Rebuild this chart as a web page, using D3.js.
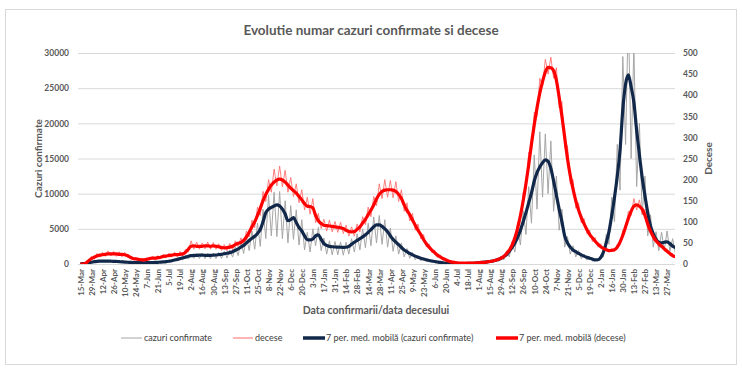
<!DOCTYPE html>
<html><head><meta charset="utf-8">
<script src="https://cdn.jsdelivr.net/npm/d3@7"></script>
<style>body{margin:0;background:#fff} svg{display:block;font-family:Lato,'Open Sans',sans-serif}</style>
</head><body><svg id="c" width="742" height="369"></svg>
<script>
// ---- data (one value every 3.5 days starting 15-Mar-2020) ----
const seriesStart = Date.UTC(2020, 2, 15);
const stepHours = 84;
const casesRaw = [
30,40,160,130,330,250,480,280,500,300,
480,290,460,250,400,200,340,170,290,140,
260,130,240,120,240,130,270,140,310,170,
380,200,500,300,700,420,950,560,1200,700,
1400,800,1500,780,1520,760,1480,740,1550,760,
1650,800,1800,850,2000,980,2450,1200,3100,1500,
3900,1900,4700,2100,5800,2500,7800,3600,9800,4000,
10200,3900,10300,3600,9000,3000,8300,3500,7700,2700,
6300,2000,4500,1700,5000,2600,5200,1900,3700,1400,
3300,1300,3200,1300,3100,1250,3100,1400,3600,1700,
4300,2000,5000,2300,5800,2600,6700,3000,6900,2800,
6300,2400,5100,1800,4000,1400,3000,1000,2200,800,
1650,600,1200,450,880,330,620,230,430,160,
280,100,170,60,110,45,80,35,75,40,
95,50,140,80,230,130,330,180,460,250,
680,380,1050,600,1750,1000,3000,1700,4900,2700,
7600,4200,11000,5800,15500,7800,18800,9500,18500,10000,
17500,7500,12500,4800,7800,2400,3900,1400,2600,1000,
1900,750,1400,550,1050,400,750,400,1300,1000,
4200,2800,9500,6000,17000,10500,29500,17000,36000,15000,
31000,11000,20000,7000,12500,4000,7000,2400,4600,1900,
4500,2000,4700,1800,3600,1500];
const deathsRaw = [
0,1,4,6,18,11,25,16,28,18,
31,19,30,18,29,17,28,15,20,10,
16,8,14,7,15,9,18,10,20,12,
23,14,26,16,28,17,30,19,35,28,
55,35,52,35,50,36,52,35,51,35,
48,32,46,31,49,34,55,41,62,47,
78,64,104,86,135,115,172,148,200,170,
225,185,232,183,222,170,205,160,190,145,
176,128,158,118,155,98,120,84,106,78,
104,76,101,75,99,72,92,66,88,66,
95,76,112,93,135,112,160,138,190,155,
200,158,198,157,195,148,176,125,145,102,
120,80,95,60,70,40,48,27,33,16,
22,9,14,5,8,2,5,1,4,1,
4,1,4,2,5,3,6,3,8,5,
12,7,18,14,31,26,54,53,100,103,
170,175,265,265,360,350,440,420,485,450,
490,440,465,370,385,275,280,190,200,132,
145,97,108,72,80,53,63,40,48,32,
40,27,38,29,47,46,80,80,125,115,
155,128,152,118,130,82,90,55,64,40,
50,30,36,20,25,14];
const casesMA = [
20,60,110,180,250,330,380,400,410,410,
400,395,385,360,330,300,280,250,230,210,
200,190,185,180,185,195,205,220,240,260,
290,330,390,460,560,660,760,880,980,1100,
1180,1220,1240,1250,1250,1240,1230,1230,1250,1280,
1330,1380,1450,1530,1620,1750,1950,2150,2400,2650,
3000,3350,3650,3950,4350,4900,6000,7300,7800,8050,
8250,8400,8250,7800,7100,6150,6300,6600,5900,5200,
4700,4000,3450,3420,3550,4000,4150,3500,2900,2650,
2500,2450,2420,2400,2380,2370,2380,2500,2800,3100,
3350,3600,3850,4150,4500,4900,5300,5550,5550,5350,
5000,4600,4000,3500,3100,2750,2350,2000,1750,1500,
1300,1120,950,820,700,600,500,420,350,290,
230,180,140,110,90,75,65,60,60,65,
75,90,110,140,180,220,260,300,360,430,
530,650,820,1050,1350,1800,2350,3000,3800,4800,
6000,7300,8700,10100,11800,13000,13800,14400,14800,14600,
13600,11800,9800,7800,6000,4000,3000,2400,2000,1750,
1500,1300,1120,960,830,700,580,600,900,1700,
3000,4600,6900,9500,12500,16200,22000,25600,26900,25200,
23000,19000,15500,12300,9700,7300,5400,4300,3500,3100,
3000,3100,3150,2900,2550,2350];
const deathsMA = [
0,0,2,8,13,16,19,21,22,23,
24,24,24,24,23,23,22,20,16,13,
12,11,10,10,11,13,14,14,15,16,
18,19,20,21,22,22,23,24,28,35,
42,43,42,42,42,43,43,42,43,42,
41,39,38,39,40,42,46,49,51,56,
64,75,88,100,115,132,150,165,177,187,
194,199,201,199,194,187,180,174,168,160,
152,143,137,136,133,115,102,96,92,91,
90,89,88,87,86,84,80,77,76,77,
82,88,97,106,117,128,140,154,165,172,
175,176,176,175,172,165,155,140,127,117,
104,92,80,70,58,48,40,33,27,21,
17,13,10,7,5,4,3,2,2,2,
2,2,2,3,3,4,4,5,6,7,
9,11,14,18,25,33,45,62,85,115,
150,190,235,285,330,370,405,432,455,466,
465,458,435,395,350,300,250,210,178,150,
128,110,95,82,70,62,54,47,41,37,
34,32,32,34,40,52,68,88,108,125,
137,140,137,130,115,95,78,65,55,48,
42,36,30,25,20,17];
const leftTicks = [0,5000,10000,15000,20000,25000,30000];
const rightTicks = [0,50,100,150,200,250,300,350,400,450,500];
const xTickFirst = Date.UTC(2020,2,15), xTickLast = Date.UTC(2022,2,28), xTickStepDays = 14;
const titleText = "Evolutie numar cazuri confirmate si decese";
const yLeftTitle = "Cazuri confirmate", yRightTitle = "Decese";
const xTitle = "Data confirmarii/data decesului";
const legendLabels = ["cazuri confirmate","decese","7 per. med. mobilă (cazuri confirmate)","7 per. med. mobilă (decese)"];

// ---- drawing ----
const svg = d3.select('#c');
const P = {l:78, r:675, t:53, b:264};
const x = d3.scaleUtc().domain([new Date(Date.UTC(2020,2,12)), new Date(Date.UTC(2022,3,6))]).range([P.l,P.r]);
const yL = d3.scaleLinear().domain([0,30000]).range([P.b,P.t]);
const yR = d3.scaleLinear().domain([0,500]).range([P.b,P.t]);
const dates = casesMA.map((_,i)=>d3.utcHour.offset(new Date(seriesStart), stepHours*i));
const txt = '#595959';

svg.append('rect').attr('x',5.5).attr('y',9.5).attr('width',731).attr('height',355)
  .attr('fill','#fff').attr('stroke','#d9d9d9');

svg.append('text').attr('x',371).attr('y',35).attr('text-anchor','middle')
  .attr('font-size',13.5).attr('font-weight','bold').attr('fill',txt).text(titleText);

const gL = svg.append('g').attr('transform',`translate(${P.l},0)`)
  .call(d3.axisLeft(yL).tickValues(leftTicks).tickSize(-(P.r-P.l)).tickPadding(9).tickFormat(d3.format('d')));
gL.select('.domain').remove();
gL.selectAll('line').attr('stroke','#d9d9d9');
gL.selectAll('text').attr('fill',txt).attr('font-size',8.5).attr('font-weight','bold').attr('font-family','Lato');

const gR = svg.append('g').attr('transform',`translate(${P.r},0)`)
  .call(d3.axisRight(yR).tickValues(rightTicks).tickSize(0).tickPadding(8));
gR.select('.domain').remove();
gR.selectAll('text').attr('fill',txt).attr('font-size',8.5).attr('font-weight','bold').attr('font-family','Lato');

const xTicks = d3.utcDay.range(new Date(xTickFirst), new Date(xTickLast), xTickStepDays);
const gX = svg.append('g').attr('transform',`translate(0,${P.b})`)
  .call(d3.axisBottom(x).tickValues(xTicks).tickSize(0).tickFormat(d3.utcFormat('%-d-%b')));
gX.select('.domain').remove();
gX.selectAll('text').attr('fill',txt).attr('font-size',8).attr('font-weight','bold').attr('font-family','Lato')
  .attr('transform','rotate(-90)').attr('text-anchor','end').attr('x',-5).attr('y',0).attr('dy','0.35em');

svg.append('text').attr('transform',`translate(41.5,${(P.t+P.b)/2}) rotate(-90)`).attr('text-anchor','middle')
  .attr('font-size',10).attr('font-weight','bold').attr('fill',txt).text(yLeftTitle);
svg.append('text').attr('transform',`translate(711.5,${(P.t+P.b)/2}) rotate(-90)`).attr('text-anchor','middle')
  .attr('font-size',10).attr('font-weight','bold').attr('fill',txt).text(yRightTitle);
svg.append('text').attr('x',376).attr('y',314).attr('text-anchor','middle')
  .attr('font-size',10.5).attr('font-weight','bold').attr('fill',txt).text(xTitle);

svg.append('clipPath').attr('id','pc').append('rect').attr('x',P.l).attr('y',P.t).attr('width',P.r-P.l).attr('height',P.b-P.t);
const plot = svg.append('g').attr('clip-path','url(#pc)');
const lineL = arr => d3.line().x((d,i)=>x(dates[i])).y(d=>yL(d))(arr);
const lineR = arr => d3.line().x((d,i)=>x(dates[i])).y(d=>yR(d))(arr);
const colors = {raw:'#a6a6a6', rawD:'#ff6b6b', ma:'#12284a', maD:'#ff0000'};
plot.append('path').attr('d',lineL(casesRaw)).attr('fill','none').attr('stroke',colors.raw).attr('stroke-width',1);
plot.append('path').attr('d',lineR(deathsRaw)).attr('fill','none').attr('stroke',colors.rawD).attr('stroke-width',1).attr('stroke-opacity',0.85);
plot.append('path').attr('d',d3.line().curve(d3.curveMonotoneX).x((d,i)=>x(dates[i])).y(d=>yL(d))(casesMA)).attr('fill','none').attr('stroke',colors.ma).attr('stroke-width',3.2).attr('stroke-linejoin','round');
plot.append('path').attr('d',d3.line().curve(d3.curveMonotoneX).x((d,i)=>x(dates[i])).y(d=>yR(d))(deathsMA)).attr('fill','none').attr('stroke',colors.maD).attr('stroke-width',3.2).attr('stroke-linejoin','round');

const legY = 338;
const leg = [
  {x1:121,x2:142,tx:144,c:colors.raw,w:1},
  {x1:233,x2:253,tx:255,c:colors.rawD,w:1},
  {x1:303,x2:325,tx:326,c:colors.ma,w:3.5},
  {x1:496,x2:518,tx:519,c:colors.maD,w:3.5}];
leg.forEach((d,i)=>{
  svg.append('line').attr('x1',d.x1).attr('x2',d.x2).attr('y1',legY).attr('y2',legY).attr('stroke',d.c).attr('stroke-width',d.w);
  svg.append('text').attr('x',d.tx).attr('y',legY+3).attr('font-size',9).attr('fill','#404040').text(legendLabels[i]);
});
</script></body></html>
